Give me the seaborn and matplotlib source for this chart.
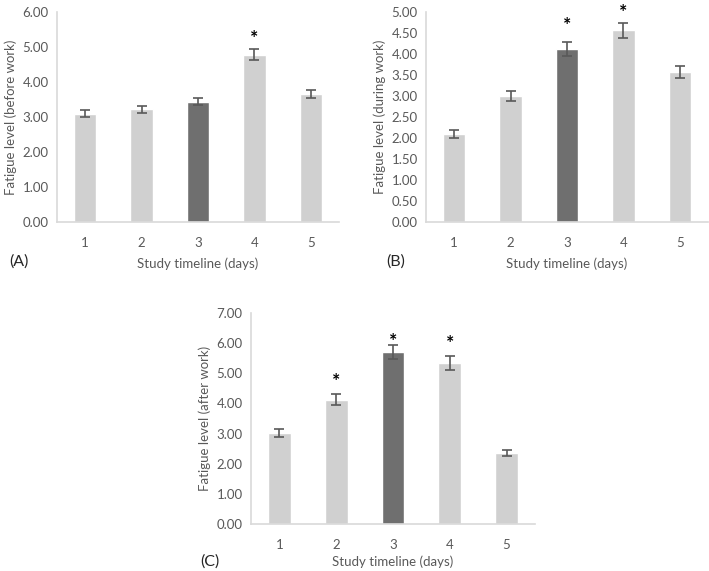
import matplotlib
matplotlib.use("Agg")
import matplotlib.pyplot as plt
import matplotlib.transforms as mtransforms
import numpy as np
import pandas as pd
import seaborn as sns

sns.set_style("white")
plt.rcParams['font.family'] = ['Lato', 'DejaVu Sans']

days = ["1", "2", "3", "4", "5"]

# panel A: before work
before_mean = [3.10, 3.22, 3.44, 4.78, 3.66]
before_err = [0.10, 0.10, 0.11, 0.15, 0.11]
before_star = [None, None, None, 5.38, None]

# panel B: during work
during_mean = [2.10, 3.00, 4.12, 4.56, 3.57]
during_err = [0.09, 0.12, 0.17, 0.19, 0.15]
during_star = [None, None, 4.79, 5.10, None]

# panel C: after work
after_mean = [3.01, 4.12, 5.70, 5.35, 2.35]
after_err = [0.13, 0.18, 0.24, 0.24, 0.10]
after_star = [None, 4.88, 6.23, 6.14, None]

bar_colors = ["#d0d0d0", "#d0d0d0", "#6f6f6f", "#d0d0d0", "#d0d0d0"]
text_gray = "#595959"
axis_gray = "#d9d9d9"

fig = plt.figure(figsize=(7.09, 5.71), dpi=100)

W, H = 709, 571


def make_ax(left, top, right, bottom):
    return fig.add_axes([left / W, 1 - bottom / H, (right - left) / W, (bottom - top) / H])


def panel(ax, means, errs, stars, ymax, step, ylabel, xpad=6):
    df = pd.DataFrame({"day": days, "value": means})
    sns.barplot(data=df, x="day", y="value", hue="day", palette=bar_colors,
                legend=False, width=0.4, ax=ax, saturation=1)
    ax.errorbar(np.arange(len(days)), means, yerr=errs, fmt="none",
                ecolor="#595959", elinewidth=1.2, capsize=3.5, capthick=1.2)
    # asterisk glyph sits high in its box, nudge it down a bit
    star_tr = mtransforms.offset_copy(ax.transData, fig=fig, y=-5, units="dots")
    for i, s in enumerate(stars):
        if s is not None:
            ax.text(i, s, "*", ha="center", va="center", fontsize=14,
                    fontweight="bold", color="black", clip_on=False,
                    transform=star_tr)
    ax.set_ylim(0, ymax)
    ax.set_xlim(-0.5, len(days) - 0.5)
    ticks = np.arange(0, ymax + step / 2, step)
    ax.set_yticks(ticks)
    ax.set_yticklabels([f"{v:.2f}" for v in ticks])
    for sp in ["top", "right"]:
        ax.spines[sp].set_visible(False)
    for sp in ["left", "bottom"]:
        ax.spines[sp].set_color(axis_gray)
        ax.spines[sp].set_linewidth(1.2)
    ax.tick_params(axis="both", length=0, colors=text_gray, labelsize=9.5)
    ax.tick_params(axis="x", pad=11)
    ax.tick_params(axis="y", pad=6)
    ax.set_xlabel("Study timeline (days)", color=text_gray, fontsize=9.5, labelpad=xpad)
    ax.set_ylabel(ylabel, color=text_gray, fontsize=9.5, labelpad=4)


axA = make_ax(57, 12, 339, 222)
panel(axA, before_mean, before_err, before_star, 6, 1, "Fatigue level (before work)")

axB = make_ax(426, 12, 708, 222)
panel(axB, during_mean, during_err, during_star, 5, 0.5, "Fatigue level (during work)")

axC = make_ax(251, 313, 535, 524)
panel(axC, after_mean, after_err, after_star, 7, 1, "Fatigue level (after work)", xpad=3)

fig.text(9 / W, 1 - 262 / H, "(A)", fontsize=11.5, va="center", ha="left")
fig.text(386 / W, 1 - 262 / H, "(B)", fontsize=11.5, va="center", ha="left")
fig.text(200 / W, 1 - 562 / H, "(C)", fontsize=11.5, va="center", ha="left")

fig.savefig("out.png", dpi=100, facecolor="white")
